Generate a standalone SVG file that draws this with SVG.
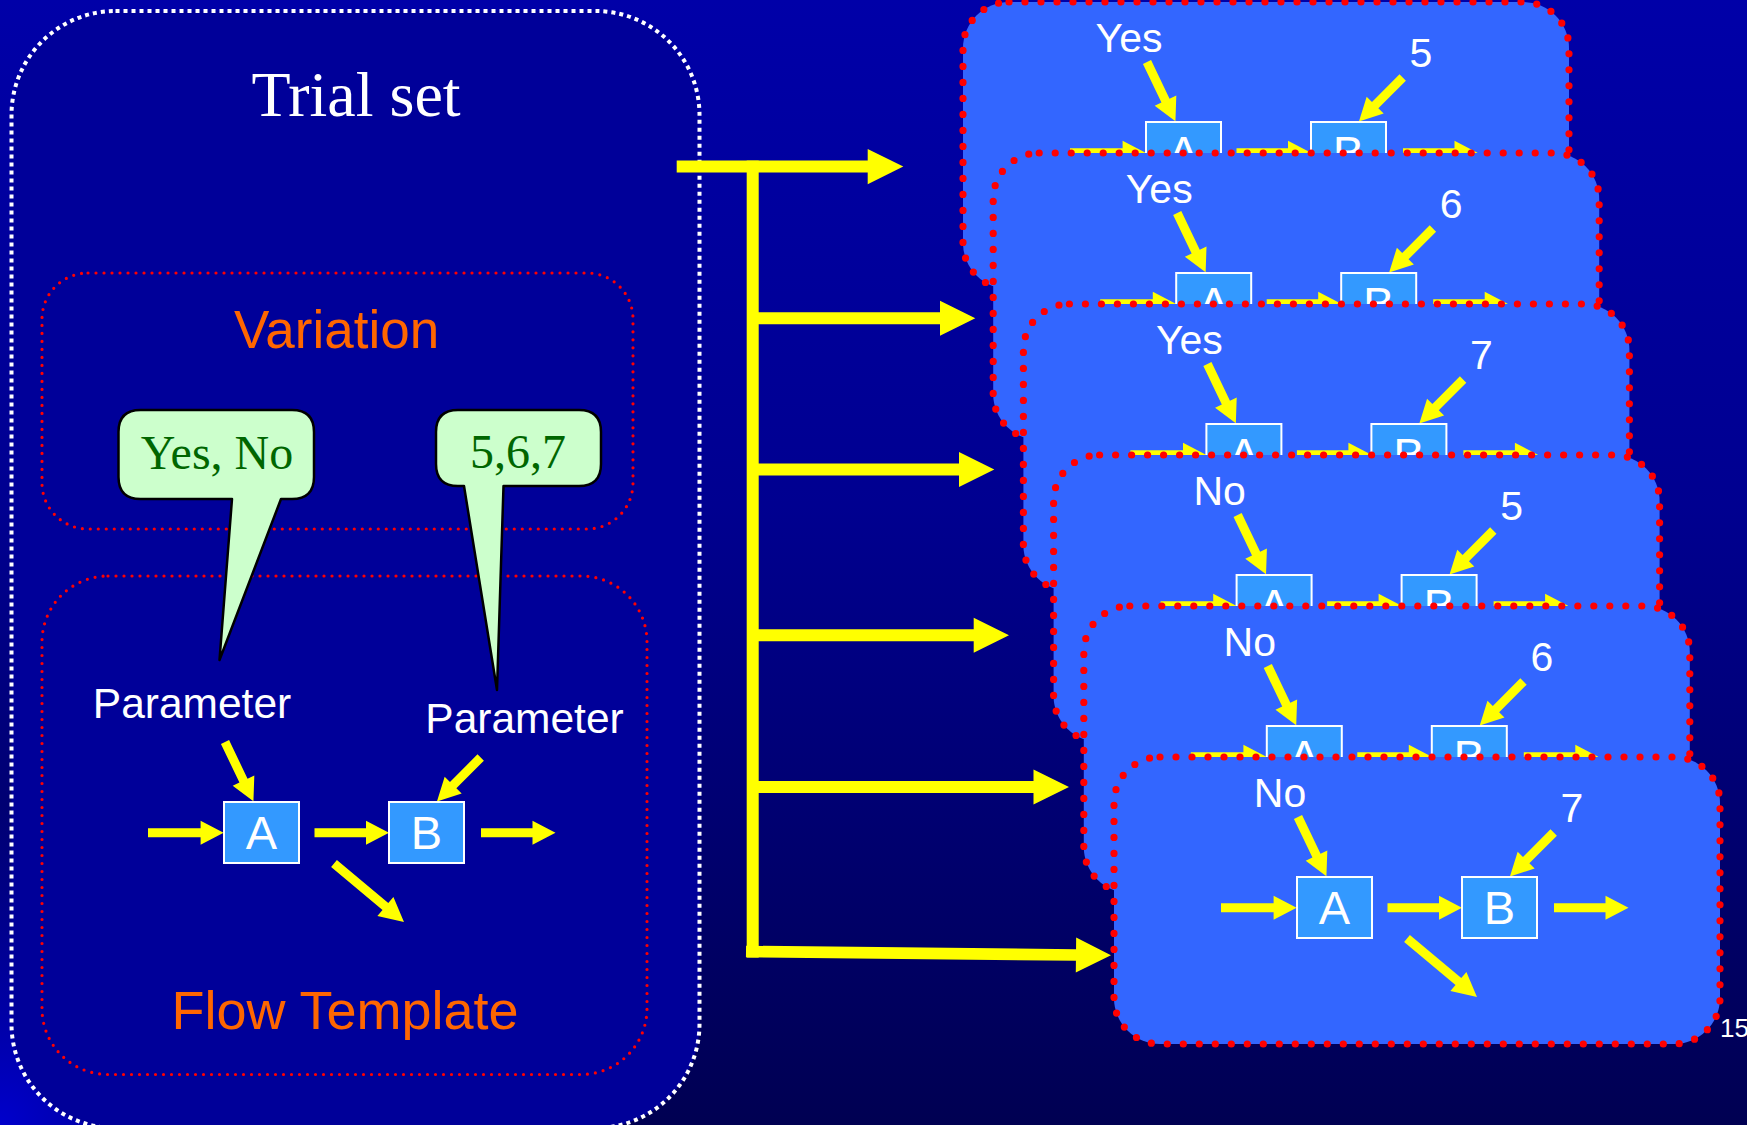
<svg xmlns="http://www.w3.org/2000/svg" xmlns:xlink="http://www.w3.org/1999/xlink" width="1747" height="1125" viewBox="0 0 1747 1125">
  <style>
    .sans { font-family: "Liberation Sans", Arial, sans-serif; }
    .serif { font-family: "Liberation Serif", "Times New Roman", serif; }
    .title { fill: #ffffff; font-size: 64px; text-anchor: middle; }
    .head { fill: #ff6600; font-size: 53px; text-anchor: middle; }
    .param { fill: #ffffff; font-size: 42.5px; text-anchor: middle; }
    .values { fill: #006600; font-size: 48px; text-anchor: middle; }
    .boxlbl { fill: #ffffff; font-size: 47px; text-anchor: middle; }
    .lbl { fill: #ffffff; font-size: 41px; text-anchor: middle; }
    .box { fill: #3399ff; stroke: #ffffff; stroke-width: 2; }
    .yel { fill: #ffff00; }
    .redline { fill: none; stroke: #ff0000; stroke-width: 3.2; stroke-dasharray: 0 8; stroke-linecap: round; }
    .card { fill: #3366ff; stroke: #ff0000; stroke-width: 7.2; stroke-dasharray: 0 16; stroke-linecap: round; }
    .callout { fill: #ccffcc; stroke: #000000; stroke-width: 2.5; stroke-linejoin: round; }
  </style>
  <defs>
    <linearGradient id="bg" x1="0" y1="0" x2="0" y2="1">
      <stop offset="0" stop-color="#0000a8"/>
      <stop offset="0.45" stop-color="#000090"/>
      <stop offset="1" stop-color="#000052"/>
    </linearGradient>
    <radialGradient id="glow" cx="0" cy="1125" r="320" gradientUnits="userSpaceOnUse">
      <stop offset="0" stop-color="#0000cc" stop-opacity="1"/>
      <stop offset="1" stop-color="#0000cc" stop-opacity="0"/>
    </radialGradient>

    <!-- A -> B flow, drawn once and reused in every instance -->
    <g id="flow">
      <path class="yel" transform="translate(148,832.8)" d="M0,-4.5 H52.6 V-12 L75.6,0 L52.6,12 V4.5 H0 Z"/>
      <path class="yel" transform="translate(314.5,832.8)" d="M0,-4.5 H51.5 V-12 L74.5,0 L51.5,12 V4.5 H0 Z"/>
      <path class="yel" transform="translate(481,832.8)" d="M0,-4.5 H51.5 V-12 L74.5,0 L51.5,12 V4.5 H0 Z"/>
      <path class="yel" transform="translate(334,863.5) rotate(39.9)" d="M0,-4.5 H67 V-12.5 L91.2,0 L67,12.5 V4.5 H0 Z"/>
      <path class="yel" transform="translate(225,742) rotate(64.4)" d="M0,-4.5 H42.8 V-12 L65.8,0 L42.8,12 V4.5 H0 Z"/>
      <path class="yel" transform="translate(480.7,757.5) rotate(134.9)" d="M0,-4.5 H39 V-12 L62,0 L39,12 V4.5 H0 Z"/>
      <rect class="box" x="224" y="802" width="75" height="61"/>
      <rect class="box" x="389" y="802" width="75" height="61"/>
      <text class="sans boxlbl" x="261.5" y="849">A</text>
      <text class="sans boxlbl" x="426.5" y="849">B</text>
    </g>
  </defs>

  <!-- slide background -->
  <rect width="1747" height="1125" fill="url(#bg)"/>
  <rect width="1747" height="1125" fill="url(#glow)"/>

  <!-- trial set panel -->
  <g id="trial-set">
    <rect x="11.5" y="11" width="688" height="1117" rx="104" fill="#000099" stroke="#ffffff" stroke-width="4" stroke-dasharray="4 4"/>
    <text class="serif title" x="356" y="116">Trial set</text>
  </g>

  <g id="variation">
    <rect class="redline" x="42" y="273" width="591" height="256" rx="46"/>
    <text class="sans head" x="336.5" y="348">Variation</text>
  </g>

  <g id="flow-template">
    <rect class="redline" x="42" y="576" width="605" height="498.5" rx="66"/>
    <use xlink:href="#flow"/>
    <text class="sans param" x="192" y="717.5">Parameter</text>
    <text class="sans param" x="524.5" y="733">Parameter</text>
    <text class="sans head" x="345" y="1028.5" style="font-size:54px">Flow Template</text>
  </g>

  <g id="values-a">
    <path class="callout" d="M140.5,410 H292 Q314,410 314,432 V477 Q314,499 292,499 H281 L219.5,660 L232,499 H140.5 Q118.5,499 118.5,477 V432 Q118.5,410 140.5,410 Z"/>
    <text class="serif values" x="217" y="468.5">Yes, No</text>
  </g>

  <g id="values-b">
    <path class="callout" d="M458,410 H579 Q601,410 601,432 V464 Q601,486 579,486 H503.5 L497,690 L464,486 H458 Q436,486 436,464 V432 Q436,410 458,410 Z"/>
    <text class="serif values" x="518" y="468">5,6,7</text>
  </g>

  <!-- generated trials, each one stacked over the previous -->
  <g id="trial-1" transform="translate(963,2)">
    <rect class="card" width="606" height="287" rx="46"/>
    <use xlink:href="#flow" transform="translate(-41,-682)"/>
    <text class="sans lbl" x="166" y="50">Yes</text>
    <text class="sans lbl" x="458" y="65">5</text>
  </g>
  <g id="trial-2" transform="translate(993.2,153)">
    <rect class="card" width="606" height="287" rx="46"/>
    <use xlink:href="#flow" transform="translate(-41,-682)"/>
    <text class="sans lbl" x="166" y="50">Yes</text>
    <text class="sans lbl" x="458" y="65">6</text>
  </g>
  <g id="trial-3" transform="translate(1023.4,304)">
    <rect class="card" width="606" height="287" rx="46"/>
    <use xlink:href="#flow" transform="translate(-41,-682)"/>
    <text class="sans lbl" x="166" y="50">Yes</text>
    <text class="sans lbl" x="458" y="65">7</text>
  </g>
  <g id="trial-4" transform="translate(1053.6,455)">
    <rect class="card" width="606" height="287" rx="46"/>
    <use xlink:href="#flow" transform="translate(-41,-682)"/>
    <text class="sans lbl" x="166" y="50">No</text>
    <text class="sans lbl" x="458" y="65">5</text>
  </g>
  <g id="trial-5" transform="translate(1083.8,606)">
    <rect class="card" width="606" height="287" rx="46"/>
    <use xlink:href="#flow" transform="translate(-41,-682)"/>
    <text class="sans lbl" x="166" y="50">No</text>
    <text class="sans lbl" x="458" y="65">6</text>
  </g>
  <g id="trial-6" transform="translate(1114,757)">
    <rect class="card" width="606" height="287" rx="46"/>
    <use xlink:href="#flow" transform="translate(-41,-682)"/>
    <text class="sans lbl" x="166" y="50">No</text>
    <text class="sans lbl" x="458" y="65">7</text>
  </g>

  <!-- fan-out connectors -->
  <g id="connectors" class="yel">
    <path d="M676.7,160.6 H867.7 V149 L903.3,166.6 L867.7,184.2 V172.6 H676.7 Z"/>
    <rect x="746.7" y="160.6" width="12" height="797"/>
    <path d="M752,312.3 H940 V300.8 L975.3,318.3 L940,335.8 V324.3 H752 Z"/>
    <path d="M752,463.5 H959 V452 L994.3,469.5 L959,487 V475.5 H752 Z"/>
    <path d="M752,629.3 H973.7 V617.8 L1009,635.3 L973.7,652.8 V641.3 H752 Z"/>
    <path d="M752,781 H1033.5 V769.5 L1069,787 L1033.5,804.5 V793 H752 Z"/>
    <path transform="translate(746,951.5) rotate(0.6)" d="M0,-5.8 H330 V-17.5 L365,0 L330,17.5 V5.8 H0 Z"/>
  </g>

  <text class="sans" x="1720" y="1036.7" fill="#ffffff" font-size="26">15</text>
</svg>
